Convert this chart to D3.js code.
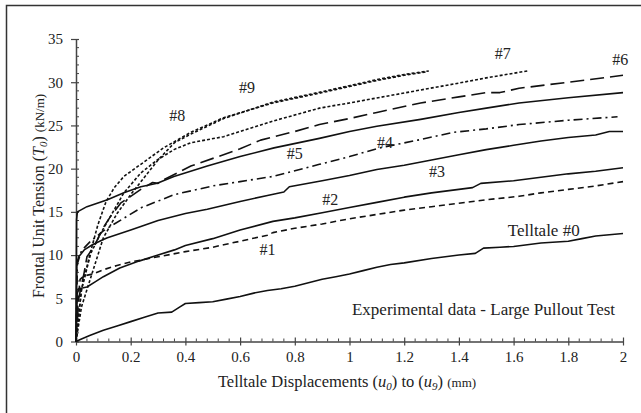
<!DOCTYPE html>
<html>
<head>
<meta charset="utf-8">
<script src="https://cdn.jsdelivr.net/npm/d3@7"></script>
<style>
  html, body { margin: 0; padding: 0; background: #fff; }
  svg { display: block; }
  text { font-family: "Liberation Serif", "Times New Roman", serif; fill: #222; }
</style>
</head>
<body>
<svg id="chart" width="641" height="413"></svg>
<script>
// Telltale readings: displacement u (mm) and frontal unit tension T0 (kN/m)
const u0 = [0, 0.02, 0.05, 0.1, 0.15, 0.2, 0.25, 0.3, 0.35, 0.38, 0.4, 0.45, 0.5, 0.55, 0.6, 0.65, 0.7, 0.75, 0.8, 0.85, 0.9, 0.95, 1.0, 1.05, 1.1, 1.15, 1.2, 1.3, 1.4, 1.46, 1.49, 1.55, 1.6, 1.7, 1.8, 1.85, 1.9, 2.0];
const t0 = [0, 0.3, 0.7, 1.3, 1.8, 2.3, 2.8, 3.3, 3.4, 4.0, 4.4, 4.5, 4.6, 4.9, 5.2, 5.6, 5.9, 6.1, 6.4, 6.8, 7.2, 7.5, 7.8, 8.2, 8.6, 8.9, 9.1, 9.6, 10.0, 10.2, 10.8, 10.9, 11.0, 11.4, 11.6, 11.9, 12.2, 12.5];

const u1 = [0, 0.005, 0.015, 0.03, 0.06, 0.1, 0.15, 0.2, 0.3, 0.4, 0.5, 0.54, 0.6, 0.7, 0.72, 0.8, 0.9, 1.0, 1.1, 1.2, 1.3, 1.4, 1.5, 1.62, 1.7, 1.8, 1.9, 2.0];
const t1 = [0, 4, 7.2, 7.6, 7.8, 8.3, 8.8, 9.2, 9.8, 10.4, 10.9, 11.2, 11.6, 12.3, 12.6, 13.1, 13.6, 14.2, 14.7, 15.2, 15.6, 16.0, 16.4, 16.8, 17.2, 17.6, 18.0, 18.5];

const u2 = [0, 0.004, 0.01, 0.04, 0.07, 0.1, 0.16, 0.23, 0.3, 0.36, 0.4, 0.5, 0.6, 0.72, 0.8, 0.9, 1.0, 1.1, 1.2, 1.3, 1.4, 1.45, 1.48, 1.6, 1.7, 1.8, 1.9, 2.0];
const t2 = [0, 5.5, 6.1, 6.3, 6.9, 7.5, 8.5, 9.3, 10.0, 10.6, 11.1, 11.9, 12.9, 13.9, 14.3, 14.9, 15.5, 16.1, 16.7, 17.2, 17.6, 17.8, 18.3, 18.6, 19.0, 19.4, 19.7, 20.1];

const u3 = [0, 0.003, 0.01, 0.03, 0.06, 0.1, 0.115, 0.2, 0.237, 0.3, 0.4, 0.48, 0.6, 0.7, 0.76, 0.78, 0.9, 1.0, 1.1, 1.2, 1.3, 1.4, 1.5, 1.6, 1.7, 1.8, 1.9, 1.95, 2.0];
const t3 = [0, 9.0, 9.8, 10.6, 11.2, 11.8, 12.0, 12.9, 13.3, 14.0, 14.8, 15.3, 16.2, 16.9, 17.3, 17.9, 18.6, 19.2, 19.9, 20.4, 21.0, 21.6, 22.2, 22.7, 23.2, 23.6, 23.9, 24.3, 24.3];

const u4 = [0, 0.005, 0.02, 0.05, 0.1, 0.14, 0.24, 0.36, 0.5, 0.6, 0.72, 0.89, 1.0, 1.11, 1.25, 1.38, 1.5, 1.62, 1.8, 1.98];
const t4 = [0, 9, 10.5, 11.5, 12.8, 13.6, 15.5, 17.0, 18.0, 18.5, 19.1, 20.5, 21.4, 22.4, 23.3, 24.2, 24.6, 25.1, 25.6, 26.0];

const u5 = [0, 0.002, 0.005, 0.04, 0.115, 0.175, 0.237, 0.297, 0.358, 0.48, 0.6, 0.724, 0.89, 1.0, 1.1, 1.26, 1.4, 1.5, 1.62, 1.8, 2.0];
const t5 = [0, 14.1, 15.0, 15.6, 16.4, 17.2, 17.9, 18.3, 19.1, 20.3, 21.4, 22.4, 23.5, 24.3, 24.9, 25.7, 26.5, 27.0, 27.6, 28.2, 28.8];

const u6 = [0, 0.01, 0.03, 0.04, 0.066, 0.1, 0.127, 0.163, 0.237, 0.28, 0.3, 0.32, 0.42, 0.52, 0.6, 0.675, 0.8, 0.89, 1.0, 1.1, 1.26, 1.4, 1.5, 1.55, 1.62, 1.8, 2.0];
const t6 = [0, 5, 8, 9.8, 11.0, 13.2, 14.5, 16.0, 17.6, 18.4, 18.3, 18.7, 20.3, 21.4, 22.3, 23.3, 24.3, 25.1, 25.8, 26.5, 27.6, 28.3, 28.8, 28.8, 29.3, 30.0, 30.8];

const u7 = [0, 0.02, 0.054, 0.09, 0.139, 0.175, 0.237, 0.297, 0.358, 0.42, 0.54, 0.72, 0.89, 1.0, 1.26, 1.4, 1.5, 1.65];
const t7 = [0, 6, 10.2, 12.5, 15.2, 17.2, 19.5, 21.0, 22.2, 23.0, 23.7, 25.5, 27.0, 27.6, 29.1, 29.9, 30.5, 31.3];

const u8 = [0, 0.02, 0.05, 0.08, 0.11, 0.14, 0.175, 0.25, 0.32, 0.42, 0.54, 0.72, 0.9, 1.0, 1.1, 1.2, 1.28];
const t8 = [0, 6, 10, 13.5, 16.2, 17.8, 19.1, 20.8, 22.4, 24.2, 25.9, 27.6, 28.8, 29.5, 30.2, 30.8, 31.2];

const u9 = [0, 0.02, 0.05, 0.1, 0.15, 0.2, 0.24, 0.3, 0.36, 0.42, 0.54, 0.72, 0.9, 1.0, 1.1, 1.2, 1.29];
const t9 = [0, 4, 7, 12, 14.8, 17.0, 18.6, 21.0, 23.0, 24.0, 25.8, 27.7, 28.9, 29.6, 30.3, 30.9, 31.3];

// Axis ticks and curve labels
const xTicks = [0, 0.2, 0.4, 0.6, 0.8, 1, 1.2, 1.4, 1.6, 1.8, 2];
const yTicks = [0, 5, 10, 15, 20, 25, 30, 35];
const curveNames = ["Telltale #0", "#1", "#2", "#3", "#4", "#5", "#6", "#7", "#8", "#9"];

const series = [
  { u: u0, t: t0, dash: null },
  { u: u1, t: t1, dash: "6,4" },
  { u: u2, t: t2, dash: null },
  { u: u3, t: t3, dash: null },
  { u: u4, t: t4, dash: "9,4,2,4" },
  { u: u5, t: t5, dash: null },
  { u: u6, t: t6, dash: "14,6" },
  { u: u7, t: t7, dash: "3,2" },
  { u: u8, t: t8, dash: "3,2" },
  { u: u9, t: t9, dash: "3,2" }
];

// label anchor points (middle of text) in data units
const labelPos = [
  { u: 1.71, t: 12.85, size: 17 },
  { u: 0.70, t: 10.6, size: 16 },
  { u: 0.93, t: 16.4, size: 16 },
  { u: 1.32, t: 19.7, size: 16 },
  { u: 1.13, t: 23.0, size: 16 },
  { u: 0.80, t: 21.8, size: 16 },
  { u: 1.99, t: 32.6, size: 16 },
  { u: 1.56, t: 33.3, size: 16 },
  { u: 0.37, t: 26.1, size: 16 },
  { u: 0.625, t: 29.4, size: 16 }
];

const svg = d3.select("#chart");
const W = 641, H = 413;
const margin = { left: 76, top: 39, right: 18, bottom: 71.5 };
const x = d3.scaleLinear().domain([0, 2]).range([margin.left, W - margin.right]);
const y = d3.scaleLinear().domain([0, 35]).range([H - margin.bottom, margin.top]);

// outer frame (left and top edges show)
svg.append("rect")
  .attr("x", 6.5).attr("y", 5.5)
  .attr("width", 700).attr("height", 500)
  .attr("fill", "none").attr("stroke", "#333").attr("stroke-width", 1.5);

const axisColor = "#444";

// minor ticks (inside)
const xMinor = d3.range(0, 2.0001, 0.04).filter(v => Math.abs(v / 0.2 - Math.round(v / 0.2)) > 1e-6);
const yMinor = d3.range(0, 35.0001, 1).filter(v => v % 5 !== 0);

svg.append("g").selectAll("line").data(xMinor).join("line")
  .attr("x1", d => x(d)).attr("x2", d => x(d))
  .attr("y1", y(0)).attr("y2", y(0) - 3)
  .attr("stroke", axisColor).attr("stroke-width", 1);
svg.append("g").selectAll("line").data(yMinor).join("line")
  .attr("x1", x(0)).attr("x2", x(0) + 3)
  .attr("y1", d => y(d)).attr("y2", d => y(d))
  .attr("stroke", axisColor).attr("stroke-width", 1);

// x axis
const gx = svg.append("g").attr("transform", `translate(0,${y(0)})`)
  .call(d3.axisBottom(x).tickValues(xTicks).tickSize(4).tickSizeOuter(0).tickPadding(6)
    .tickFormat(d => String(+d.toFixed(1))));
gx.select(".domain").attr("stroke", axisColor).attr("stroke-width", 1.5);
gx.selectAll(".tick line").attr("y1", -4).attr("y2", 4).attr("stroke", axisColor).attr("stroke-width", 1.2);
gx.selectAll(".tick text").attr("font-size", 15).attr("fill", "#222");

// y axis
const gy = svg.append("g").attr("transform", `translate(${x(0)},0)`)
  .call(d3.axisLeft(y).tickValues(yTicks).tickSize(4).tickSizeOuter(0).tickPadding(9));
gy.select(".domain").attr("stroke", axisColor).attr("stroke-width", 1.5);
gy.selectAll(".tick line").attr("x1", -5).attr("x2", 3).attr("stroke", axisColor).attr("stroke-width", 1.2);
gy.selectAll(".tick text").attr("font-size", 15).attr("fill", "#222");

// curves
const line = d3.line().x(d => x(d[0])).y(d => y(d[1])).curve(d3.curveLinear);
svg.append("g").selectAll("path").data(series).join("path")
  .attr("d", s => line(s.u.map((v, i) => [v, s.t[i]])))
  .attr("fill", "none")
  .attr("stroke", "#111")
  .attr("stroke-width", 1.6)
  .attr("stroke-linejoin", "round")
  .attr("stroke-dasharray", s => s.dash);

// curve labels
svg.append("g").selectAll("text").data(curveNames).join("text")
  .attr("x", (d, i) => x(labelPos[i].u))
  .attr("y", (d, i) => y(labelPos[i].t))
  .attr("text-anchor", "middle")
  .attr("dominant-baseline", "central")
  .attr("font-size", (d, i) => labelPos[i].size)
  .text(d => d);

// note
svg.append("text")
  .attr("x", x(1.49)).attr("y", y(3.67))
  .attr("text-anchor", "middle").attr("dominant-baseline", "central")
  .attr("font-size", 17)
  .text("Experimental data - Large Pullout Test");

// x axis title
const xt = svg.append("text")
  .attr("x", 347).attr("y", 387)
  .attr("text-anchor", "middle").attr("font-size", 16.5);
xt.append("tspan").text("Telltale Displacements (");
xt.append("tspan").attr("font-style", "italic").text("u");
xt.append("tspan").attr("font-style", "italic").attr("font-size", 11).attr("dy", 3).text("0");
xt.append("tspan").attr("dy", -3).text(") to (");
xt.append("tspan").attr("font-style", "italic").text("u");
xt.append("tspan").attr("font-style", "italic").attr("font-size", 11).attr("dy", 3).text("9");
xt.append("tspan").attr("dy", -3).text(") ");
xt.append("tspan").attr("font-size", 13).text("(mm)");

// y axis title
const yt = svg.append("text")
  .attr("transform", `translate(44,196) rotate(-90)`)
  .attr("text-anchor", "middle").attr("font-size", 16);
yt.append("tspan").text("Frontal Unit Tension (");
yt.append("tspan").attr("font-style", "italic").text("T");
yt.append("tspan").attr("font-style", "italic").attr("font-size", 11).attr("dy", 3).text("0");
yt.append("tspan").attr("dy", -3).text(") ");
yt.append("tspan").attr("font-size", 13).text("(kN/m)");
</script>
</body>
</html>
